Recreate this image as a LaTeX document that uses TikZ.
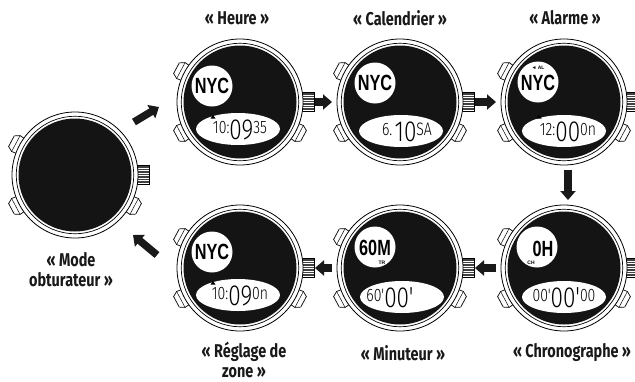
\documentclass[tikz,border=0pt]{standalone}
\usepackage{fontspec}
\setmainfont{Fira Sans}
\newfontfamily\lcdfont{Fira Sans Light}
\newfontfamily\cityfont{Liberation Sans}
\usetikzlibrary{arrows.meta,calc}
\tikzset{
  watch/.style={circle,draw=black,line width=0.8pt,fill=white,minimum size=126pt,inner sep=0pt,outer sep=0pt},
  caption/.style={font=\fontsize{18.5}{20}\selectfont\fontseries{sb}\selectfont,align=center,inner sep=0pt,xscale=0.78,text=black!90},
  flow/.style={line width=7.5pt,draw=black!90,-{Triangle[length=9pt,width=15pt]}},
  lcd/.style={font=\lcdfont,text=black,inner sep=0pt,xscale=0.78},
  city/.style={font=\cityfont\bfseries\fontsize{22}{22}\selectfont,text=black,inner sep=0pt,xscale=0.74},
  tiny/.style={font=\cityfont\bfseries\fontsize{5}{5}\selectfont,text=black,inner sep=0pt},
  marker/.style={fill=black}
}
\newcommand{\smalltxt}[1]{\raisebox{6.5pt}{\fontsize{18}{18}\selectfont #1}}
\newcommand{\bigtxt}[1]{{\fontsize{29}{29}\selectfont #1}}
\newcommand{\watchbody}[2]{%
  \begin{scope}[shift={(#2)}]
    \foreach \a in {152,208,28}{
      \begin{scope}[rotate=-\a]
        \draw[fill=white,line width=0.7pt] (58,-8) -- (67,-9) -- (72,-6) -- (72,6) -- (67,9) -- (58,8) -- cycle;
        \draw[line width=0.5pt] (67,-9) -- (67,9);
      \end{scope}
    }
    \draw[fill=white,line width=0.6pt] (62,-9.5) rectangle (74,9.5);
    \foreach \yy in {-8,-5.5,-3,-0.5,2,4.5,7}{\draw[line width=1.3pt,black!75] (62,\yy) -- (74,\yy);}
  \end{scope}
  \node[watch] (#1) at (#2) {};
  \draw[line width=0.7pt] (#1.center) circle[radius=58.7pt];
  \fill[black!92] (#1.center) circle[radius=56.5pt];
}
% #1 watch, #2 circle offset, #3 oval offset
\newcommand{\faces}[3]{%
  \fill[white] ($(#1.center)+(#2)$) circle[radius=20.5pt];
  \fill[white] ($(#1.center)+(#3)$) ellipse[x radius=42pt,y radius=16pt];
}
\newcommand{\ticker}[2]{%
  \fill[marker] ($(#1.center)+(#2)+(-2.5,1.5)$) -- ($(#1.center)+(#2)+(2.5,1.5)$) -- ($(#1.center)+(#2)+(0,-2)$) -- cycle;
}
\begin{document}
\begin{tikzpicture}[x=1pt,y=-1pt]
\useasboundingbox (0,0) rectangle (635,381);
\watchbody{w0}{75,175}
\watchbody{w1}{240,102}
\watchbody{w2}{400,102}
\watchbody{w3}{564,102}
\watchbody{w4}{564,268}
\watchbody{w5}{400,268}
\watchbody{w6}{240,268}
\faces{w1}{-28,-16}{-2,27}
\faces{w2}{-25,-19}{1,29}
\faces{w3}{-26,-20}{0,29}
\faces{w4}{-27,-21}{0,29}
\faces{w5}{-25,-21}{2,29}
\faces{w6}{-28,-16}{-2,27}
% city
\node[city] (c1) at ($(w1.center)+(-28,-16)$) {NYC};
\node[city] (c2) at ($(w2.center)+(-25,-19)$) {NYC};
\node[city] (c3) at ($(w3.center)+(-26,-19)$) {NYC};
\node[tiny] (al) at ($(w3.center)+(-26,-34)$) {◄ AL};
\node[city,xscale=1.0] (c4) at ($(w4.center)+(-21,-19)$) {0H};
\node[tiny] (ch) at ($(w4.center)+(-33,-5)$) {CH};
\node[city,xscale=1.0] (c5) at ($(w5.center)+(-25,-20)$) {60M};
\node[tiny] (tr) at ($(w5.center)+(-18,-5)$) {TR};
\node[city] (c6) at ($(w6.center)+(-28,-16)$) {NYC};
% lcd lines
\node[lcd] (d1) at ($(w1.center)+(0,28)$) {\smalltxt{10:}\bigtxt{09}\smalltxt{35}};
\node[lcd] (d2) at ($(w2.center)+(7,30)$) {\smalltxt{6.\,}\bigtxt{10}\smalltxt{SA}};
\node[lcd] (d3) at ($(w3.center)+(4,30)$) {\smalltxt{12:}\bigtxt{00}\smalltxt{0n}};
\node[lcd] (d4) at ($(w4.center)+(0,30)$) {\smalltxt{00'}\bigtxt{00'}\smalltxt{00}};
\node[lcd] (d5) at ($(w5.center)+(-10,30)$) {\smalltxt{60'}\bigtxt{00'}};
\node[lcd] (d6) at ($(w6.center)+(0,28)$) {\smalltxt{10:}\bigtxt{09}\smalltxt{0n}};
\ticker{w1}{-27,15}
\ticker{w3}{-25,15}
\ticker{w6}{-27,15}
% captions
\node[caption] (t1) at (237,18) {« Heure »};
\node[caption] (t2) at (400,18) {« Calendrier »};
\node[caption] (t3) at (565,18) {« Alarme »};
\node[caption] (t0) at (71,270) {« Mode\\obturateur »};
\node[caption] (t4) at (572,353) {« Chronographe »};
\node[caption] (t5) at (403,353) {« Minuteur »};
\node[caption] (t6) at (244,360) {« Réglage de\\zone »};
% arrows
\draw[flow,shorten <=12pt,shorten >=5pt] (w1.east) -- (w2.west);
\draw[flow,shorten <=12pt,shorten >=5pt] (w2.east) -- (w3.west);
\draw[flow,shorten <=5pt,shorten >=5pt] ($(w3.south)+(4,0)$) -- ($(w4.north)+(4,0)$);
\draw[flow,shorten <=5pt,shorten >=12pt] (w4.west) -- (w5.east);
\draw[flow,shorten <=5pt,shorten >=12pt] (w5.west) -- (w6.east);
\draw[flow] ($(w0.center)+(59,-53)$) -- ($(w1.center)+(-81,5)$);
\draw[flow] ($(w6.center)+(-83,-13)$) -- ($(w0.center)+(58,60)$);
\end{tikzpicture}
\end{document}
